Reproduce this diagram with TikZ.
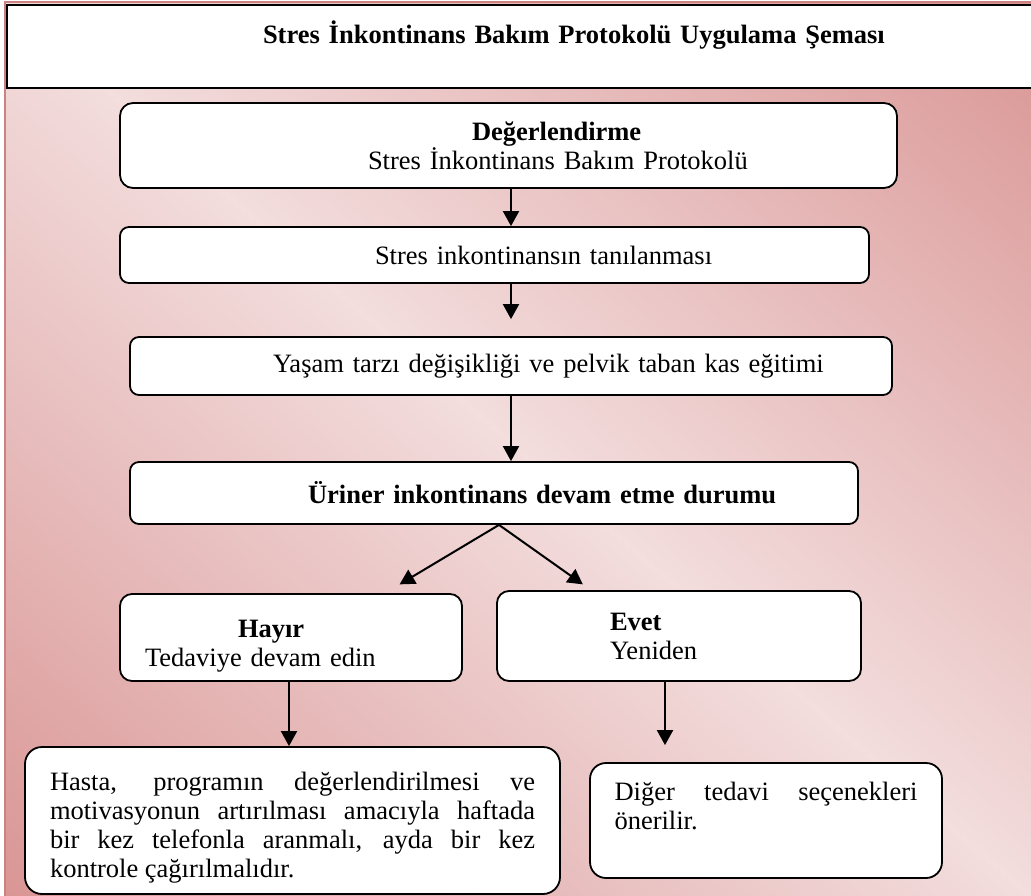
\documentclass[tikz,border=0pt]{standalone}
\usepackage{fontspec}
\setmainfont{Liberation Serif}
\usetikzlibrary{arrows.meta,positioning}
\definecolor{pkLight}{RGB}{243,221,221}
\definecolor{pkDark}{RGB}{217,149,148}
\definecolor{pkEdge}{RGB}{205,130,130}
\tolerance=10000
\hbadness=10000

\begin{document}
\begin{tikzpicture}[
  x=1pt, y=-1pt,
  font=\fontsize{26.5pt}{29pt}\selectfont,
  box/.style={draw=black, line width=1.8pt, fill=white, rounded corners=12pt, inner xsep=0pt, inner ysep=0pt, align=left},
  note/.style={box, align=justify, rounded corners=17pt, inner xsep=25pt},
  ar/.style={-{Triangle[length=15pt, width=16pt]}, line width=2pt}
]
\useasboundingbox (0,0) rectangle (1031,896);
% diagonal pink background
\begin{scope}
  \clip (5,2) rectangle (1036,900);
  \begin{scope}[transform canvas={shift={(518,449)}, rotate=48.9}]
    \shade[left color=pkDark, right color=pkLight] (-680pt,-720pt) rectangle (0pt,720pt);
    \shade[left color=pkLight, right color=pkDark] (0pt,-720pt) rectangle (680pt,720pt);
  \end{scope}
\end{scope}
\draw[pkEdge, line width=1.2pt] (5,2) rectangle (1036,900);

\node[box, rounded corners=0pt, text width=1027pt, minimum height=83pt] (title) at (520.5,46.5) {\hspace*{256pt}\textbf{Stres İnkontinans Bakım Protokolü Uygulama Şeması}\\\mbox{}};

\coordinate (axis) at (511,0);
\node[box, text width=777pt, minimum height=85pt, rounded corners=13pt] (deg) at (508.5,145.5) {\hspace*{352pt}\textbf{Değerlendirme}\\\hspace*{248pt}Stres İnkontinans Bakım Protokolü};
\node[box, text width=749pt, minimum height=56pt, rounded corners=9pt] (tan) at (494.5,255) {\hspace*{255pt}Stres inkontinansın tanılanması};
\node[box, text width=762pt, minimum height=58pt, rounded corners=9pt] (yas) at (511,366) {\hspace*{143pt}Yaşam tarzı değişikliği ve pelvik taban kas eğitimi};
\node[box, text width=728pt, minimum height=62pt, rounded corners=9pt] (uri) at (494,493) {\hspace*{178pt}\textbf{Üriner inkontinans devam etme durumu}};

\node[box, text width=342pt, minimum height=87pt] (hay) at (291,637.5) {\rule{0pt}{34pt}\hspace*{118pt}\textbf{Hayır}\\\hspace*{25pt}Tedaviye devam edin};
\node[box, text width=364pt, minimum height=90pt] (evt) at (679,636) {\hspace*{113pt}\textbf{Evet}\\\hspace*{113pt}Yeniden};

\node[note, text width=485pt, minimum height=147pt] (hasta) at (292.5,820.5) {\rule{0pt}{32pt}Hasta, programın değerlendirilmesi ve\linebreak motivasyonun artırılması amacıyla haftada\linebreak bir kez telefonla aranmalı, ayda bir kez\linebreak kontrole çağırılmalıdır.};
\node[note, text width=303pt, inner xsep=24.5pt, minimum height=115pt, rounded corners=16pt] (dig) at (766,820.5) {Diğer tedavi seçenekleri\linebreak önerilir.\\\mbox{}};

\draw[ar] (deg.south -| axis) -- (tan.north -| axis);
\draw[ar, shorten >=17pt] (tan.south -| axis) -- (yas.north -| axis);
\draw[ar] (yas.south -| axis) -- (uri.north -| axis);
\draw[ar, shorten >=17pt] ([xshift=5pt]uri.south) -- ([xshift=94pt]hay.north);
\draw[ar, shorten >=10pt] ([xshift=5pt]uri.south) -- ([xshift=-88pt]evt.north);
\draw[ar] ([xshift=-2pt]hay.south) -- ([xshift=-2pt]hay.south |- hasta.north);
\draw[ar, shorten >=17pt] ([xshift=-14pt]evt.south) -- ([xshift=-14pt]evt.south |- dig.north);
\end{tikzpicture}
\end{document}
